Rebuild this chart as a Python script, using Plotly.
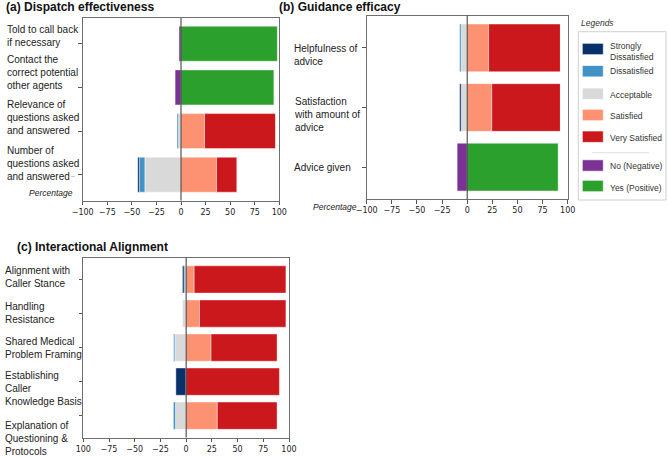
import plotly.graph_objects as go

# ---------------- data ----------------
likert_names = ["Strongly Dissatisfied", "Dissatisfied", "Acceptable", "Satisfied", "Very Satisfied"]
binary_names = ["No (Negative)", "Yes (Positive)"]

# (a) Dispatch effectiveness
dispatch_items = ["Told to call back<br>if necessary",
                  "Contact the<br>correct potential<br>other agents",
                  "Relevance of<br>questions asked<br>and answered",
                  "Number of<br>questions asked<br>and answered"]
dispatch_sd = [0, 0, 0, 1.7]
dispatch_d = [0, 0, 1.5, 5.5]
dispatch_a = [0, 0, 2.5, 36.8]
dispatch_s = [0, 0, 24, 36.2]
dispatch_vs = [0, 0, 72.5, 21]
dispatch_no = [2, 6, 0, 0]
dispatch_yes = [98, 94.5, 0, 0]

# (b) Guidance efficacy
guidance_items = ["Helpfulness of<br>advice",
                  "Satisfaction<br>with amount of<br>advice",
                  "Advice given"]
guidance_sd = [0, 1.5, 0]
guidance_d = [1.5, 0, 0]
guidance_a = [6, 6, 0]
guidance_s = [21.3, 24.5, 0]
guidance_vs = [71.5, 68.3, 0]
guidance_no = [0, 0, 10]
guidance_yes = [0, 0, 90.5]

# (c) Interactional Alignment
align_items = ["Alignment with<br>Caller Stance",
               "Handling<br>Resistance",
               "Shared Medical<br>Problem Framing",
               "Establishing<br>Caller<br>Knowledge Basis",
               "Explanation of<br>Questioning &<br>Protocols"]
align_sd = [1.5, 0, 0, 10, 0]
align_d = [1, 0, 1.2, 0, 2]
align_a = [1.1, 3.5, 11, 0, 10.4]
align_s = [7.8, 13, 24.2, 0, 30.3]
align_vs = [89.2, 84, 64.2, 90.7, 58.1]

x_tickvals = [-100, -75, -50, -25, 0, 25, 50, 75, 100]
x_ticktext_ab = ["−100", "−75", "−50", "−25", "0", "25", "50", "75", "100"]
x_ticktext_c = ["100", "−75", "−50", "−25", "0", "25", "50", "75", "100"]

# ---------------- styles ----------------
W, H = 669, 457
def X(px):
    return px / W
def Y(py):
    return 1 - py / H

colors = {
    "Strongly Dissatisfied": "#08306b",
    "Dissatisfied": "#4292c6",
    "Acceptable": "#d9d9d9",
    "Satisfied": "#fc9272",
    "Very Satisfied": "#cb181d",
    "No (Negative)": "#7b3294",
    "Yes (Positive)": "#2ca02c",
}
LABEL_FONT = dict(family="Liberation Sans, Arial, sans-serif", size=10, color="#222")
TICK_FONT = dict(family="DejaVu Sans, sans-serif", size=8, color="#222")
edge = dict(color="rgba(255,255,255,0.7)", width=0.6)

fig = go.Figure()

def add_panel(items, sd, d, a, s, vs, no, yes, xa, ya):
    neg = lambda v: [-x for x in v]
    series = [("Acceptable", neg(a)), ("Dissatisfied", neg(d)), ("Strongly Dissatisfied", neg(sd)),
              ("Satisfied", s), ("Very Satisfied", vs)]
    if no is not None:
        series += [("No (Negative)", neg(no)), ("Yes (Positive)", yes)]
    for name, vals in series:
        fig.add_trace(go.Bar(y=items, x=vals, orientation="h", name=name,
                             marker=dict(color=colors[name], line=edge),
                             xaxis=xa, yaxis=ya, showlegend=False, hoverinfo="x+y+name"))

add_panel(dispatch_items, dispatch_sd, dispatch_d, dispatch_a, dispatch_s, dispatch_vs,
          dispatch_no, dispatch_yes, "x", "y")
add_panel(guidance_items, guidance_sd, guidance_d, guidance_a, guidance_s, guidance_vs,
          guidance_no, guidance_yes, "x2", "y2")
add_panel(align_items, align_sd, align_d, align_a, align_s, align_vs, None, None, "x3", "y3")

frame = dict(showline=True, linecolor="#6f6f6f", linewidth=1, mirror=True, showgrid=False,
             zeroline=False, automargin=False)

def xaxis(dom, anchor, ticktext):
    return dict(domain=dom, anchor=anchor, range=[-100, 100], tickmode="array",
                tickvals=x_tickvals, ticktext=ticktext, ticks="outside", ticklen=3.5,
                tickcolor="#555", tickfont=TICK_FONT, **frame)

def yaxis(dom, anchor, items):
    n = len(items)
    m = 0.4 + 0.05 * (n - 1 + 0.8)
    return dict(domain=dom, anchor=anchor, type="category", categoryorder="array",
                categoryarray=items, range=[n - 1 + m, -m], ticks="outside", ticklen=3.5,
                tickcolor="#555", showticklabels=False, **frame)

fig.update_layout(
    width=W, height=H, margin=dict(l=0, r=0, t=0, b=0, autoexpand=False),
    paper_bgcolor="white", plot_bgcolor="white",
    barmode="relative", bargap=0.2,
    xaxis=xaxis([X(82.7), X(279.3)], "y", x_ticktext_ab),
    yaxis=yaxis([Y(200.5), Y(18)], "x", dispatch_items),
    xaxis2=xaxis([X(366.7), X(567.7)], "y2", x_ticktext_ab),
    yaxis2=yaxis([Y(199.3), Y(15.7)], "x2", guidance_items),
    xaxis3=xaxis([X(83.3), X(289)], "y3", x_ticktext_c),
    yaxis3=yaxis([Y(437.5), Y(257.7)], "x3", align_items),
    font=dict(family="Liberation Sans, Arial, sans-serif"),
)

shapes = []
annotations = []

# zero lines
for xr, yr in [("x", "y domain"), ("x2", "y2 domain"), ("x3", "y3 domain")]:
    shapes.append(dict(type="line", xref=xr, yref=yr, x0=0, x1=0, y0=0, y1=1,
                       line=dict(color="#333", width=1), layer="above"))

# category labels (left aligned, multi-line)
def add_labels(items, yref, xpx, shifts):
    for it, sh in zip(items, shifts):
        annotations.append(dict(text=it, xref="paper", yref=yref, x=X(xpx), y=it,
                                xanchor="left", yanchor="middle", align="left",
                                yshift=sh, showarrow=False, font=LABEL_FONT))

add_labels(dispatch_items, "y", 4.5, [7.7, 15.3, 14, 11.3])
add_labels(guidance_items, "y2", 291.7, [-6.7, -6.7, 0])
add_labels(align_items, "y3", 2.7, [2, 1, 0, -6.7, -22.7])

# small ellipsis artefact
annotations.append(dict(text="‥", xref="paper", yref="paper", x=X(73), y=Y(174),
                        xanchor="center", yanchor="middle", showarrow=False,
                        font=dict(family="Liberation Sans", size=7, color="#555")))

# titles
for txt, xpx, ypx in [("(a) Dispatch effectiveness", 4.3, 7),
                      ("(b) Guidance efficacy", 276.5, 7),
                      ("(c) Interactional Alignment", 14.5, 246.7)]:
    annotations.append(dict(text="<b>" + txt + "</b>", xref="paper", yref="paper",
                            x=X(xpx), y=Y(ypx), xanchor="left", yanchor="middle",
                            showarrow=False,
                            font=dict(family="Liberation Sans, Arial", size=12, color="#111")))

# "Percentage" axis labels
pct_font = dict(family="Liberation Sans, Arial", size=8.5, color="#222")
for xr, ypx in [(74.5, 193), (358.5, 207)]:
    annotations.append(dict(text="<i>Percentage</i>", xref="paper", yref="paper",
                            x=X(xr), y=Y(ypx), xanchor="right", yanchor="middle",
                            showarrow=False, font=pct_font))

# ---------------- manual legend ----------------
leg_font = dict(family="Liberation Sans, Arial", size=8.5, color="#333")
annotations.append(dict(text="<i>Legends</i>", xref="paper", yref="paper", x=X(578.5), y=Y(22.7),
                        xanchor="left", yanchor="middle", showarrow=False, font=leg_font))
shapes.append(dict(type="rect", xref="paper", yref="paper", x0=X(578.3), x1=X(666),
                   y0=Y(200), y1=Y(31.7), line=dict(color="#d0d0d0", width=1),
                   fillcolor="white", layer="above"))
legend_rows = [("Strongly Dissatisfied", "Strongly<br>Dissatisfied", 49, 51.3),
               ("Dissatisfied", "Dissatisfied", 71.2, 71.5),
               ("Acceptable", "Acceptable", 93.8, 94.5),
               ("Satisfied", "Satisfied", 115, 116.5),
               ("Very Satisfied", "Very Satisfied", 136.7, 137.5),
               ("No (Negative)", "No (Negative)", 165.5, 166),
               ("Yes (Positive)", "Yes (Positive)", 186, 187.5)]
for key, txt, cy, ty in legend_rows:
    shapes.append(dict(type="rect", xref="paper", yref="paper", x0=X(582.3), x1=X(603.3),
                       y0=Y(cy + 5.7), y1=Y(cy - 5.7), fillcolor=colors[key],
                       line=dict(color="rgba(255,255,255,0.8)", width=0.8), layer="above"))
    annotations.append(dict(text=txt, xref="paper", yref="paper", x=X(608), y=Y(ty),
                            xanchor="left", yanchor="middle", align="left",
                            showarrow=False, font=leg_font))
shapes.append(dict(type="line", xref="paper", yref="paper", x0=X(591.7), x1=X(649.3),
                   y0=Y(152.7), y1=Y(152.7), line=dict(color="#e0e0e0", width=1),
                   layer="above"))

fig.update_layout(shapes=shapes, annotations=annotations)
fig.write_html("out.html")
